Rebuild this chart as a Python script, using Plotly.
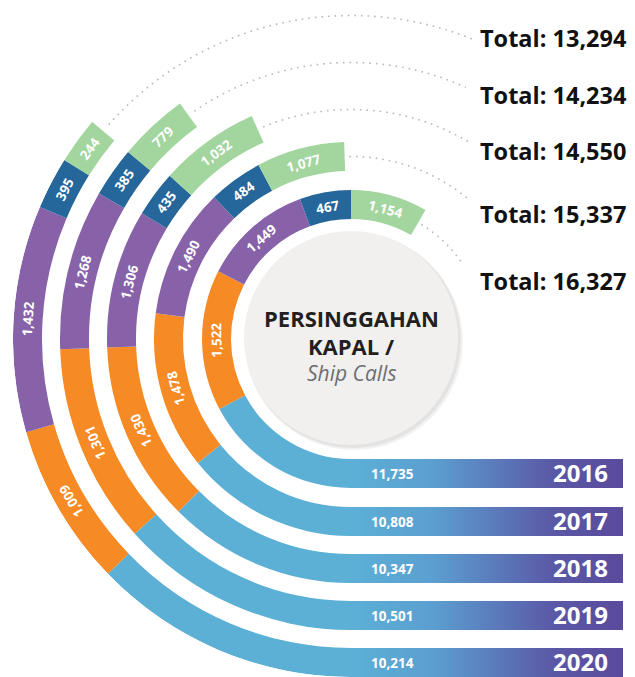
import math
import numpy as np
import plotly.graph_objects as go

# ---------------- data ----------------
years = ["2016", "2017", "2018", "2019", "2020"]
blue_vals = [11735, 10808, 10347, 10501, 10214]
orange_vals = [1522, 1478, 1430, 1301, 1009]
purple_vals = [1449, 1490, 1306, 1268, 1432]
teal_vals = [467, 484, 435, 385, 395]
green_vals = [1154, 1077, 1032, 779, 244]
totals = [16327, 15337, 14550, 14234, 13294]

# ---------------- layout (not data) ----------------
W, H = 635, 677
CX, CY = 351, 339          # centre of the rings in page pixels
R = 338                    # radial axis max (px)
SECTOR0 = 33
# segment boundaries, degrees clockwise from 6 o'clock, one row per ring
arc_bounds = [
    [0, 62, 117, 160, 180, 210],
    [0, 51, 97.5, 136, 152, 178],
    [0, 45, 88, 121, 132, 156],
    [0, 48, 88, 120, 130, 144],
    [0, 46, 74, 113, 122, 130],
]
ring_base = [120, 168, 215, 262, 309]
ring_w = 29
dot_end = [236.5, 220, 211.5, 204.5, 202]
total_y_px = [280.5, 214, 150.5, 94.5, 37.7]
BAR_LEN = 272
seg_colors = ["#5cb0d6", "#f68a24", "#8762a9", "#25679a", "#a3d59e"]
FONT = "Open Sans"

series = [blue_vals, orange_vals, purple_vals, teal_vals, green_vals]

fig = go.Figure()

# horizontal ribbons (cartesian, 1 unit = 1 px, origin at ring centre)
for i, yr in enumerate(years):
    y0 = -ring_base[i]
    y1 = -(ring_base[i] + ring_w)
    fig.add_trace(go.Scatter(
        x=[0, BAR_LEN, BAR_LEN, 0, 0], y=[y0, y0, y1, y1, y0],
        fill="toself", mode="none", hoverinfo="skip", showlegend=False,
        fillgradient=dict(type="horizontal",
                          colorscale=[[0, "#5cb0d6"], [0.3, "#5b9fd0"],
                                      [0.75, "#5a58a6"], [1, "#5a4a9c"]],
                          start=0, stop=BAR_LEN),
        xaxis="x", yaxis="y"))

# ring segments (barpolar)
for k, vals in enumerate(series):
    thetas, widths = [], []
    for i in range(len(years)):
        a0, a1 = arc_bounds[i][k], arc_bounds[i][k + 1]
        thetas.append((a0 + a1) / 2)
        widths.append(a1 - a0)
    fig.add_trace(go.Barpolar(
        r=[ring_w] * len(years), base=ring_base, theta=thetas, width=widths,
        marker=dict(color=seg_colors[k], line=dict(width=0)),
        customdata=vals, hovertemplate="%{customdata:,}<extra></extra>",
        showlegend=False))

# dotted guides from ring ends toward totals
for i in range(len(years)):
    th = np.linspace(arc_bounds[i][-1] + 1.5, dot_end[i], 80)
    fig.add_trace(go.Scatterpolar(
        r=[ring_base[i] + ring_w / 2] * len(th), theta=th, mode="lines",
        line=dict(color="#b8b8b8", width=1.6, dash="1.6px,5px"),
        hoverinfo="skip", showlegend=False))

ann = []
# segment labels along the arcs
for i in range(len(years)):
    rm = ring_base[i] + ring_w / 2
    for k in range(1, 5):
        a0, a1 = arc_bounds[i][k], arc_bounds[i][k + 1]
        th = math.radians((a0 + a1) / 2)
        x = -rm * math.sin(th)
        y = -rm * math.cos(th)
        ang = -math.degrees(math.atan2(math.sin(th), -math.cos(th)))
        ann.append(dict(x=x, y=y, xref="x", yref="y", text=f"<b>{series[k][i]:,}</b>",
                        showarrow=False, textangle=ang,
                        font=dict(family=FONT, size=13.5, color="white")))
    ym = -(ring_base[i] + ring_w / 2)
    ann.append(dict(x=41, y=ym, xref="x", yref="y", text=f"<b>{blue_vals[i]:,}</b>",
                    showarrow=False, font=dict(family=FONT, size=13.5, color="white")))
    ann.append(dict(x=259, y=ym + 1.5, xref="x", yref="y", text=f"<b>{years[i]}</b>",
                    xanchor="right", showarrow=False,
                    font=dict(family=FONT, size=24, color="white")))
    ann.append(dict(x=478 - CX, y=CY - total_y_px[i], xref="x", yref="y",
                    text=f"<b>Total: {totals[i]:,}</b>", xanchor="left", showarrow=False,
                    font=dict(family=FONT, size=23.5, color="#111111")))

# centre title
ann.append(dict(x=0, y=CY - 318, xref="x", yref="y", text="<b>PERSINGGAHAN</b>",
                showarrow=False, font=dict(family=FONT, size=22, color="#231f20")))
ann.append(dict(x=0, y=CY - 346, xref="x", yref="y", text="<b>KAPAL /</b>",
                showarrow=False, font=dict(family=FONT, size=22, color="#231f20")))
ann.append(dict(x=0, y=CY - 373, xref="x", yref="y", text="<i>Ship Calls</i>",
                showarrow=False, font=dict(family=FONT, size=21, color="#6d6e71")))

shapes = [
    dict(type="circle", xref="x", yref="y", x0=-106, x1=112, y0=-111, y1=106,
         fillcolor="rgba(0,0,0,0.05)", line=dict(width=0), layer="below"),
    dict(type="circle", xref="x", yref="y", x0=-106, x1=110, y0=-109, y1=107,
         fillcolor="rgba(0,0,0,0.06)", line=dict(width=0), layer="below"),
    dict(type="circle", xref="x", yref="y", x0=-107, x1=107, y0=-106, y1=108,
         fillcolor="#f1f0ef", line=dict(width=0), layer="below"),
]

fig.update_layout(
    width=W, height=H, margin=dict(l=0, r=0, t=0, b=0),
    paper_bgcolor="white", plot_bgcolor="rgba(0,0,0,0)",
    xaxis=dict(range=[-CX, W - CX], visible=False, domain=[0, 1], fixedrange=True),
    yaxis=dict(range=[-(H - CY), CY], visible=False, domain=[0, 1], fixedrange=True),
    polar=dict(
        domain=dict(x=[(CX - R) / W, (CX + R * math.cos(math.radians(SECTOR0))) / W],
                    y=[(H - CY - R) / H, (H - CY + R) / H]),
        sector=[SECTOR0, 270], bgcolor="rgba(0,0,0,0)",
        radialaxis=dict(range=[0, R], visible=False),
        angularaxis=dict(visible=False, rotation=270, direction="clockwise"),
    ),
    annotations=ann, shapes=shapes, showlegend=False,
)

fig.write_html("out.html", config={"displayModeBar": False},
               post_script="document.body.style.margin='0';document.body.style.overflow='hidden';")
